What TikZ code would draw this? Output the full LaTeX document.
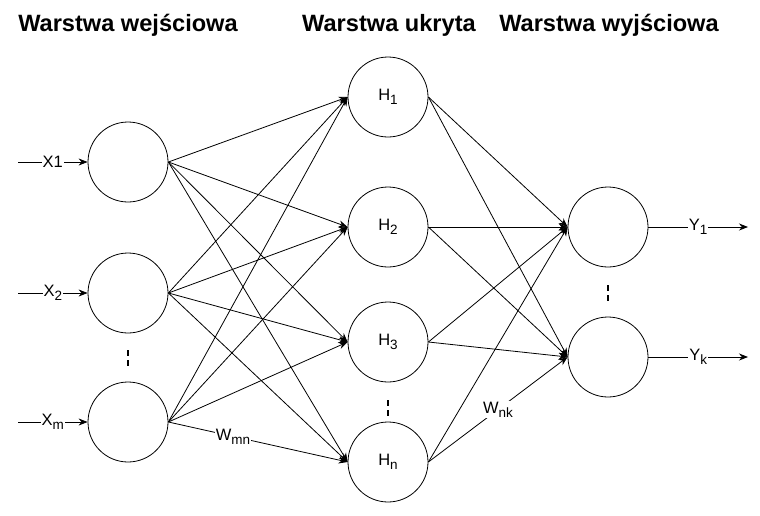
\documentclass[tikz,border=0pt]{standalone}
\usepackage{fontspec}
\setmainfont{Liberation Sans}
\usetikzlibrary{arrows.meta}
\newcommand{\lsub}[1]{\raisebox{-4pt}{\fontsize{13.5}{13.5}\selectfont #1}}
\begin{document}
\begin{tikzpicture}[x=1pt,y=-1pt,
  neuron/.style={circle,draw,line width=0.8pt,minimum size=80pt,inner sep=0pt,font=\fontsize{16.5}{17}\selectfont},
  conn/.style={line width=0.8pt,-{Stealth[length=9pt,width=7pt]}},
  lbl/.style={fill=white,inner sep=1pt,font=\fontsize{16.5}{17}\selectfont},
  ttl/.style={font=\bfseries\fontsize{23.6}{25}\selectfont,anchor=base},
  vdots/.style={line width=1.3pt,dash pattern=on 6pt off 4pt}]
\useasboundingbox (0,0) rectangle (760,515);
% titles
\node[ttl] (t1) at (128,31) {Warstwa wejściowa};
\node[ttl] (t2) at (389,31) {Warstwa ukryta};
\node[ttl] (t3) at (609,31) {Warstwa wyjściowa};
% neurons
\node[neuron] (i1) at (128,162) {};
\node[neuron] (i2) at (128,293) {};
\node[neuron] (im) at (128,422) {};
\node[neuron] (h1) at (388,97) {H\lsub{1}};
\node[neuron] (h2) at (388,227) {H\lsub{2}};
\node[neuron] (h3) at (388,342) {H\lsub{3}};
\node[neuron] (hn) at (388,462) {H\lsub{n}};
\node[neuron] (o1) at (608,227) {};
\node[neuron] (ok) at (608,357) {};
% free ends
\coordinate (x1s) at (18,162);
\coordinate (x2s) at (18,293);
\coordinate (xms) at (18,422);
\coordinate (y1e) at (748,227);
\coordinate (yke) at (748,357);
% inputs
\draw[conn] (x1s) -- node[lbl]{X1} (i1);
\draw[conn] (x2s) -- node[lbl]{X\lsub{2}} (i2);
\draw[conn] (xms) -- node[lbl]{X\lsub{m}} (im);
% input -> hidden
\foreach \a in {i1,i2,im}
  \foreach \b in {h1,h2,h3,hn}
    \draw[conn] (\a.east) -- (\b.west);
% hidden -> output
\foreach \a in {h1,h2,h3,hn}
  \foreach \b in {o1,ok}
    \draw[conn] (\a.east) -- (\b.west);
% weight labels
\path (im.east) -- node[lbl,pos=0.36]{W\lsub{mn}} (hn.west);
\path (hn.east) -- node[lbl,pos=0.5]{W\lsub{nk}} (ok.west);
% outputs
\draw[conn] (o1.east) -- node[lbl]{Y\lsub{1}} (y1e);
\draw[conn] (ok.east) -- node[lbl]{Y\lsub{k}} (yke);
% ellipses
\draw[vdots] (128,350) -- (128,367);
\draw[vdots] (388,400) -- (388,417);
\draw[vdots] (608,285) -- (608,302);
\end{tikzpicture}
\end{document}
